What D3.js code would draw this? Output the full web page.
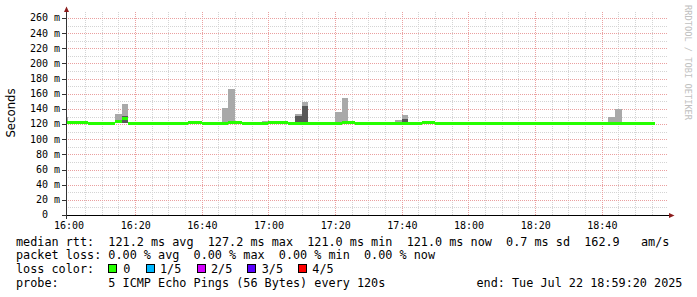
<!DOCTYPE html>
<html><head><meta charset="utf-8">
<script src="https://cdn.jsdelivr.net/npm/d3@7"></script>
<style>html,body{margin:0;padding:0;background:#fff;overflow:hidden}</style>
</head><body><svg id="c" width="697" height="297"></svg>
<script>
// ---- data (ms), one value per 120 s sample, first sample starts 15:58 ----
const firstSample = "2025-07-22T15:58:00";
const stepSeconds = 120;
const rttMedian = [
 122,122,122,122,121,121,121,121,124,127.2,
 121,121,121,121,121,121,121,121,121,122,
 122,121,121,121,121,122,122,121,121,121,
 121,122,122,122,121,121,121,121,121,121,
 121,121,122,122,121,121,121,121,121,121,
 121,121,121,121,122,122,121,121,121,121,
 121,121,121,121,121,121,121,121,121,121,
 121,121,121,121,121,121,121,121,121,121,
 121,121,121,121,121,121,121,121,121];
const rttMax = [
 130,122,122,122,121,121,121,121,133,146,
 121,121,121,121,123,121,121,121,123,122,
 122,121,121,123,141.5,166,122,121,121,123,
 124,122,122,122,121,133,149,121,121,121,
 121,136,154,122,121,121,121,121,121,121,
 125,132,121,121,122,122,121,121,121,121,
 121,121,121,121,121,121,121,121,121,121,
 121,121,121,121,121,121,121,121,121,121,
 121,121,129.5,140,121,121,121,121,121];
const rttUpper = [
 122,122,122,122,121,121,121,121,125,131,
 121,121,121,121,121,121,121,121,121,122,
 122,121,121,121,121,122,122,121,121,121,
 121,122,122,122,121,130.5,144.5,121,121,121,
 121,121,122,122,121,121,121,121,121,121,
 123,127,121,121,122,122,121,121,121,121,
 121,121,121,121,121,121,121,121,121,121,
 121,121,121,121,121,121,121,121,121,121,
 121,121,121,121,121,121,121,121,121];
const rttMin = [
 121,121,121,121,121,121,121,121,121,121,
 121,121,121,121,121,121,121,121,121,121,
 121,121,121,121,121,121,121,121,121,121,
 121,121,121,121,121,121,121,121,121,121,
 121,121,121,121,121,121,121,121,121,121,
 121,121,121,121,121,121,121,121,121,121,
 121,121,121,121,121,121,121,121,121,121,
 121,121,121,121,121,121,121,121,121,121,
 121,121,121,121,121,121,121,121,121];
const lossCount = new Array(rttMedian.length).fill(0);
const yTicks = [0,20,40,60,80,100,120,140,160,180,200,220,240,260];
const xTickLabels = ["16:00","16:20","16:40","17:00","17:20","17:40","18:00","18:20","18:40"];
const lossLabels = ["0","1/5","2/5","3/5","4/5"];
const lossColors = ["#26ff00","#00b8ff","#d400ff","#5a00ff","#ff0000"];
const legendLines = [
 "median rtt:  121.2 ms avg  127.2 ms max  121.0 ms min  121.0 ms now  0.7 ms sd  162.9   am/s",
 "packet loss: 0.00 % avg  0.00 % max  0.00 % min  0.00 % now",
 "loss color:",
 "probe:       5 ICMP Echo Pings (56 Bytes) every 120s"];
const endLabel = "end: Tue Jul 22 18:59:20 2025";

// ---- drawing ----
const svg = d3.select("#c");
const t0 = new Date("2025-07-22T15:59:20"), t1 = new Date("2025-07-22T18:59:20");
const x = d3.scaleTime().domain([t0,t1]).range([66,666]);
const y = d3.scaleLinear().domain([0,260]).range([215,18]);
const mono = "'DejaVu Sans Mono', monospace";
const s0 = new Date(firstSample);
const samples = rttMedian.map((m,i)=>{
  const a = new Date(s0.getTime()+i*stepSeconds*1000);
  const b = new Date(a.getTime()+stepSeconds*1000);
  return {a,b,med:m,max:rttMax[i],up:rttUpper[i],min:rttMin[i],loss:lossCount[i]};
});

// grid
const g = svg.append("g");
const minorH = d3.range(10,260,20);
const majorH = yTicks.filter(v=>v>0);
g.selectAll(".hm").data(minorH).enter().append("line")
 .attr("x1",66).attr("x2",668).attr("y1",d=>Math.round(y(d))+0.5).attr("y2",d=>Math.round(y(d))+0.5)
 .attr("stroke","#d4d4d4").attr("stroke-dasharray","1,1");
const minorV = d3.timeMinute.every(5).range(new Date("2025-07-22T16:05:00"), t1).filter(d=>d.getMinutes()%20!==0);
const majorV = d3.timeMinute.every(20).range(new Date("2025-07-22T16:20:00"), t1);
g.selectAll(".vm").data(minorV).enter().append("line")
 .attr("x1",d=>Math.round(x(d))+0.5).attr("x2",d=>Math.round(x(d))+0.5).attr("y1",12).attr("y2",215)
 .attr("stroke","#d4d4d4").attr("stroke-dasharray","1,1");
g.selectAll(".hM").data(majorH).enter().append("line")
 .attr("x1",66).attr("x2",668).attr("y1",d=>Math.round(y(d))+0.5).attr("y2",d=>Math.round(y(d))+0.5)
 .attr("stroke","#eaa0a0").attr("stroke-dasharray","1,1");
g.selectAll(".vM").data(majorV).enter().append("line")
 .attr("x1",d=>Math.round(x(d))+0.5).attr("x2",d=>Math.round(x(d))+0.5).attr("y1",12).attr("y2",215)
 .attr("stroke","#eaa0a0").attr("stroke-dasharray","1,1");

// smoke
const sm = svg.append("g").attr("shape-rendering","crispEdges");
const X = d=>Math.max(66,x(d));
sm.selectAll(".l").data(samples.filter(s=>s.max>s.min)).enter().append("rect")
 .attr("x",s=>X(s.a)).attr("width",s=>x(s.b)-X(s.a))
 .attr("y",s=>y(s.max)).attr("height",s=>y(s.min)-y(s.max)).attr("fill","#a9a9a9");
sm.selectAll(".d").data(samples.filter(s=>s.up>s.min+0.6)).enter().append("rect")
 .attr("x",s=>X(s.a)).attr("width",s=>x(s.b)-X(s.a))
 .attr("y",s=>y(s.up)).attr("height",s=>y(s.min)-y(s.up)).attr("fill","#585858");
// median
sm.selectAll(".m").data(samples).enter().append("rect")
 .attr("x",s=>X(s.a)).attr("width",s=>x(s.b)-X(s.a))
 .attr("y",s=>y(s.med)-1.2).attr("height",3).attr("fill",s=>lossColors[s.loss]);

// axes
const ax = svg.append("g").attr("shape-rendering","crispEdges");
ax.append("line").attr("x1",62).attr("x2",670).attr("y1",215.5).attr("y2",215.5).attr("stroke","#000");
ax.append("line").attr("x1",66.5).attr("x2",66.5).attr("y1",219).attr("y2",11).attr("stroke","#333");
ax.selectAll(".yt").data(yTicks).enter().append("line")
 .attr("x1",62).attr("x2",66).attr("y1",d=>Math.round(y(d))+0.5).attr("y2",d=>Math.round(y(d))+0.5).attr("stroke","#333");
svg.append("path").attr("d","M64,12 L66.5,6.5 L69,12 Z").attr("fill","#8b1c1c");
svg.append("path").attr("d","M669,213 L674.5,215.5 L669,218 Z").attr("fill","#8b1c1c");

svg.selectAll(".yl").data(yTicks).enter().append("text")
 .attr("x",30).attr("y",d=>y(d)+3.4).attr("font-family",mono).attr("font-size","10px")
 .attr("fill","#000").style("white-space","pre")
 .text(d=>String(d).padStart(3," ")+(d===0?"  ":" m"));
const xTickDates = xTickLabels.map(l=>new Date("2025-07-22T"+l+":00"));
svg.selectAll(".xl").data(xTickDates).enter().append("text")
 .attr("x",d=>x(d)+0.8).attr("y",228.5).attr("text-anchor","middle")
 .attr("font-family",mono).attr("font-size","10px").attr("fill","#000")
 .text((d,i)=>xTickLabels[i]);

svg.append("text").attr("transform","translate(15,113) rotate(-90)").attr("text-anchor","middle")
 .attr("font-family","'DejaVu Sans', sans-serif").attr("font-size","11.7px").attr("fill","#000").text("Seconds");
svg.append("text").attr("transform","translate(685,5) rotate(90)")
 .attr("font-family",mono).attr("font-size","8.7px").attr("fill","#c0c0c0").text("RRDTOOL / TOBI OETIKER");

// legend
const base = [245.5,259.2,272.9,286.6];
svg.selectAll(".lg").data(legendLines).enter().append("text")
 .attr("x",16).attr("y",(d,i)=>base[i]).attr("font-family",mono).attr("font-size","11.8px")
 .attr("fill","#000").style("white-space","pre").text(d=>d);
svg.append("text").attr("x",476.5).attr("y",base[3]).attr("font-family",mono).attr("font-size","11.8px")
 .attr("fill","#000").style("white-space","pre").text(endLabel);
const boxX = [108.5,146,197,247.5,298];
const labX = [123.3,160,211,261.7,312.3];
svg.selectAll(".lb").data(lossColors).enter().append("rect")
 .attr("x",(d,i)=>boxX[i]).attr("y",264.5).attr("width",8).attr("height",8)
 .attr("fill",d=>d).attr("stroke","#000").attr("shape-rendering","crispEdges");
svg.selectAll(".lt").data(lossLabels).enter().append("text")
 .attr("x",(d,i)=>labX[i]).attr("y",base[2]).attr("font-family",mono).attr("font-size","11.8px")
 .attr("fill","#000").text(d=>d);
</script></body></html>
